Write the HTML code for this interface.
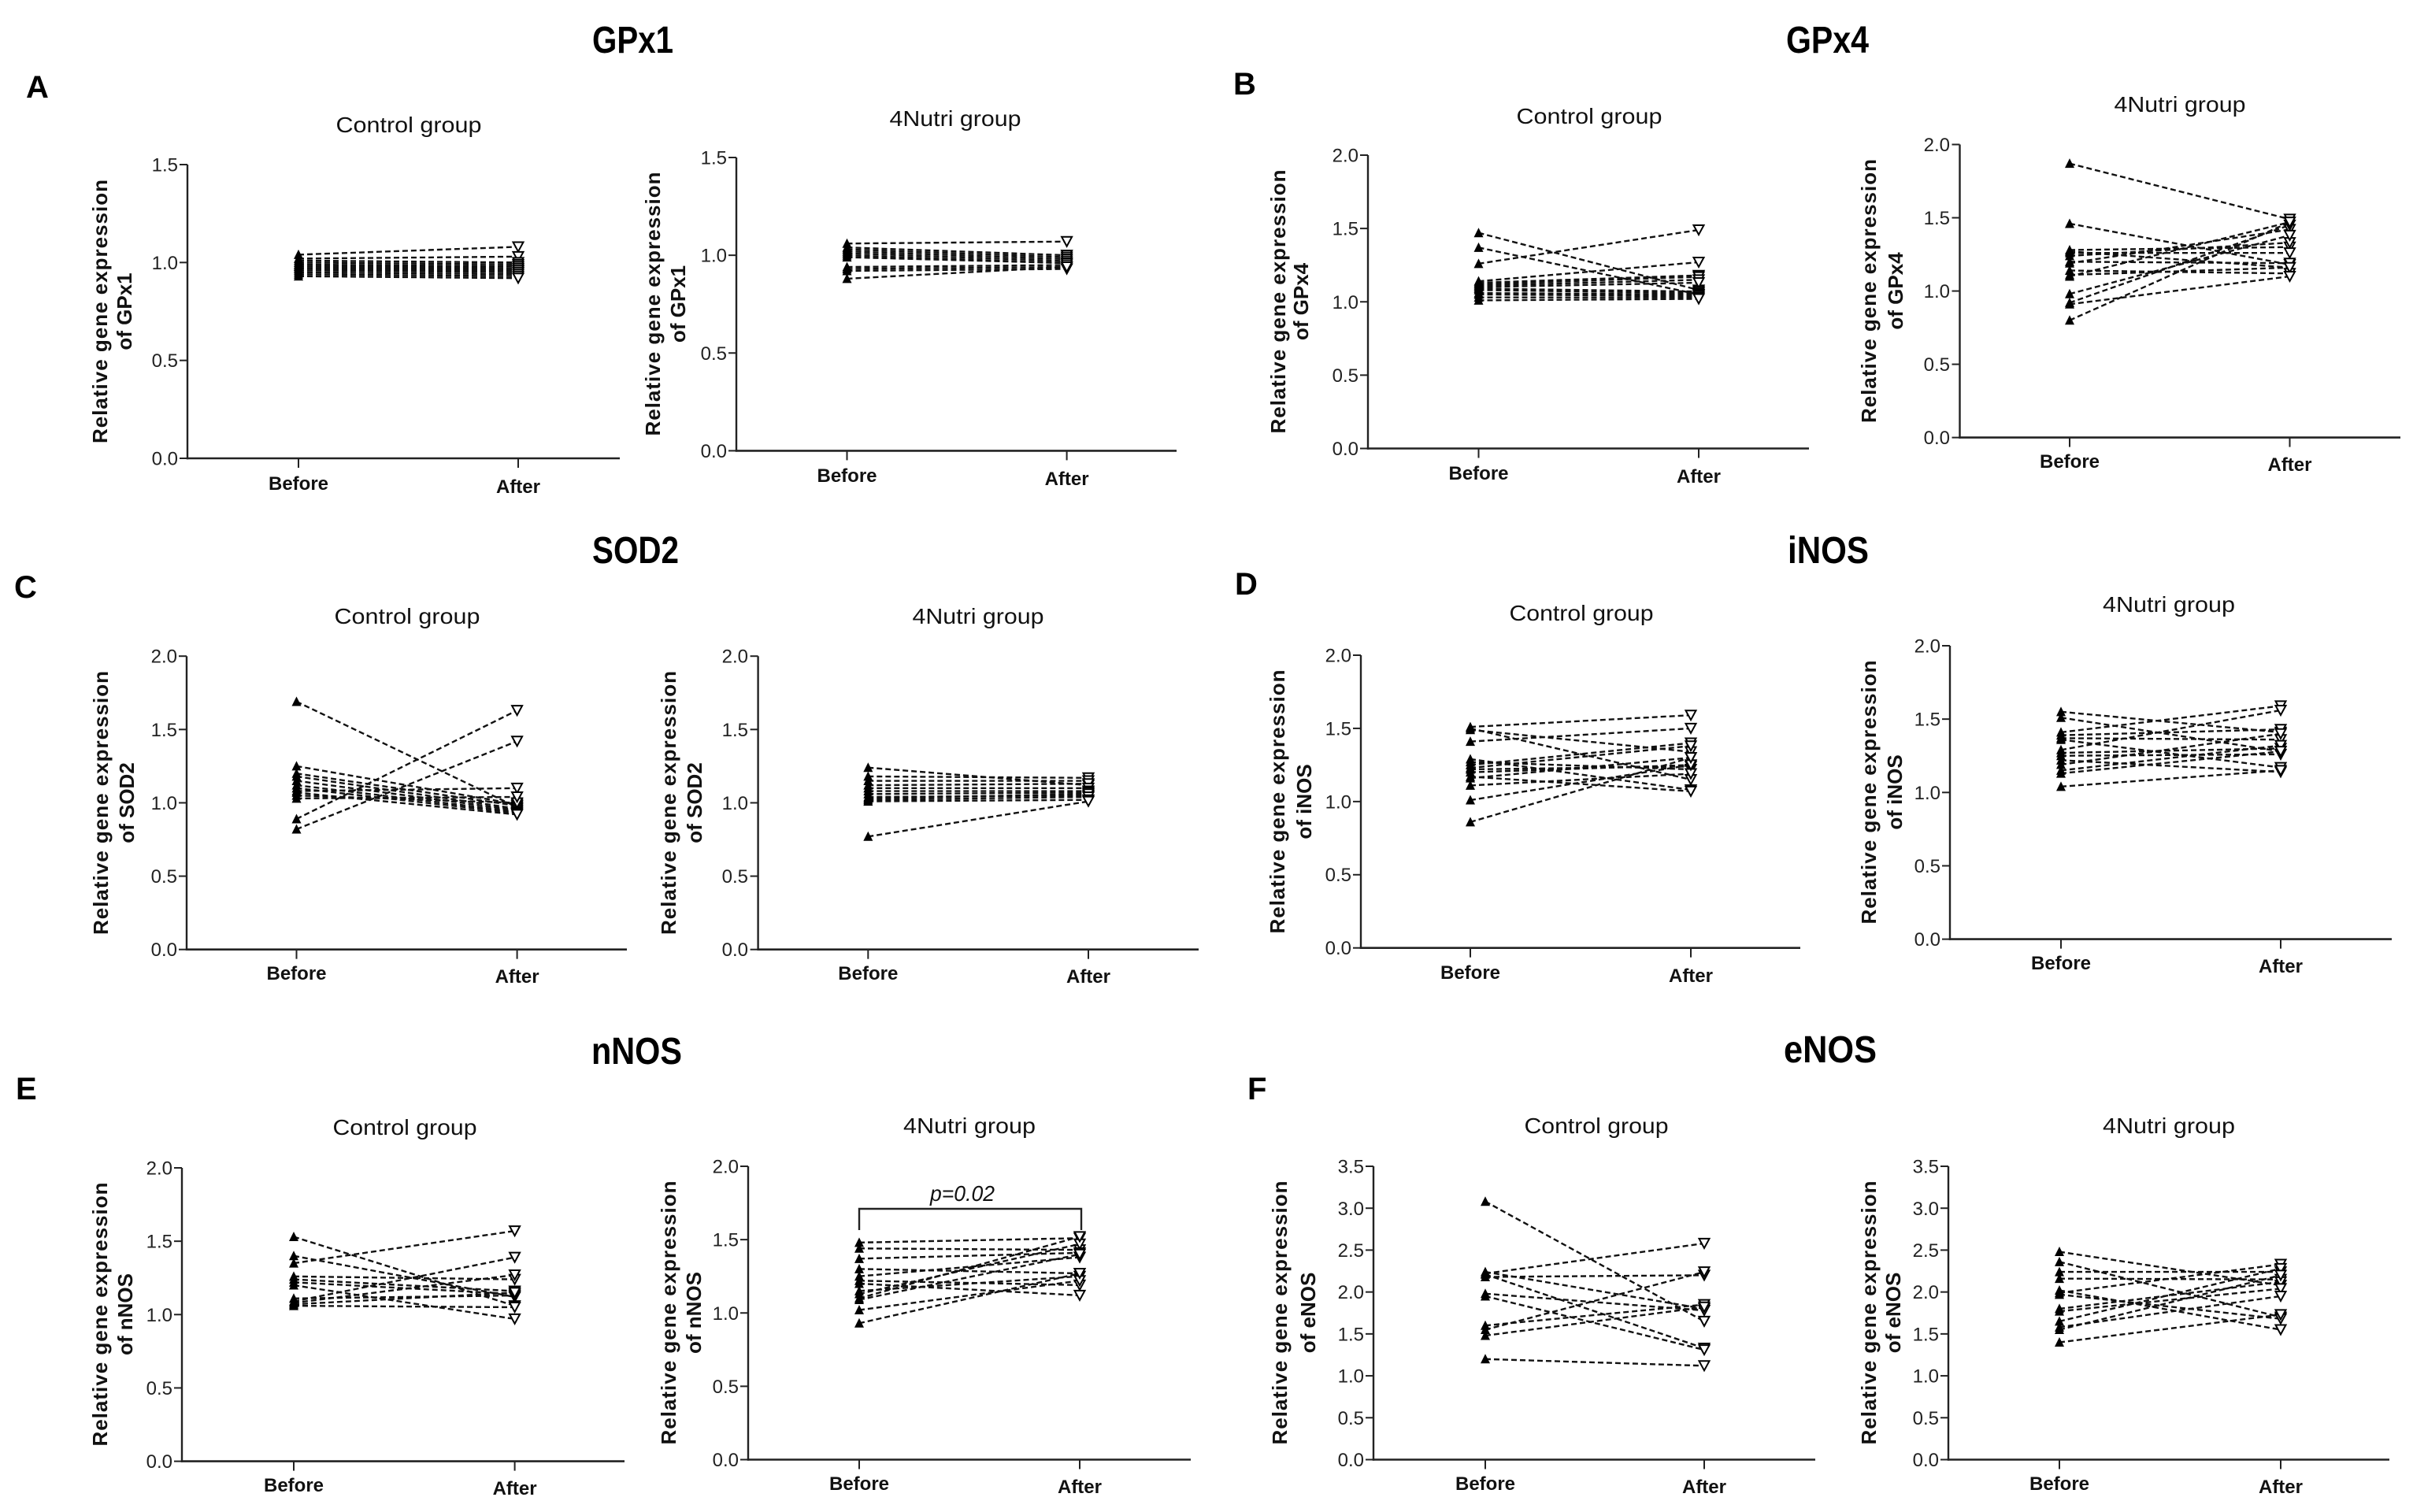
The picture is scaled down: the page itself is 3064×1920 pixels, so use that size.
<!DOCTYPE html>
<html><head><meta charset="utf-8"><style>
html,body{margin:0;padding:0;background:#fff;}
svg{display:block;}
.tk{font-family:"Liberation Sans",sans-serif;font-size:24px;fill:#222;text-anchor:end;}
.xl{font-family:"Liberation Sans",sans-serif;font-size:24px;font-weight:bold;fill:#111;text-anchor:middle;}
.tt{font-family:"Liberation Sans",sans-serif;font-size:28px;fill:#111;text-anchor:middle;}
.yl{font-family:"Liberation Sans",sans-serif;font-size:26px;font-weight:bold;fill:#111;text-anchor:middle;}
.big{font-family:"Liberation Sans Narrow","Liberation Sans",sans-serif;font-size:48px;font-weight:bold;fill:#000;}
.let{font-family:"Liberation Sans Narrow","Liberation Sans",sans-serif;font-size:40px;font-weight:bold;fill:#000;}
</style></head><body>
<svg id="s" xmlns="http://www.w3.org/2000/svg" width="3064" height="1920" viewBox="0 0 3064 1920">
<rect width="3064" height="1920" fill="#fff"/>
<g id="plots"></g>
<!-- big titles -->
<text class="big" x="752" y="67" textLength="103" lengthAdjust="spacingAndGlyphs">GPx1</text>
<text class="big" x="2268" y="67" textLength="105" lengthAdjust="spacingAndGlyphs">GPx4</text>
<text class="big" x="752" y="715" textLength="110" lengthAdjust="spacingAndGlyphs">SOD2</text>
<text class="big" x="2270" y="715" textLength="103" lengthAdjust="spacingAndGlyphs">iNOS</text>
<text class="big" x="751" y="1351" textLength="115" lengthAdjust="spacingAndGlyphs">nNOS</text>
<text class="big" x="2265" y="1349" textLength="118" lengthAdjust="spacingAndGlyphs">eNOS</text>
<!-- letters -->
<text class="let" x="33" y="124">A</text>
<text class="let" x="1566" y="120">B</text>
<text class="let" x="18" y="759">C</text>
<text class="let" x="1568" y="755">D</text>
<text class="let" x="20" y="1396">E</text>
<text class="let" x="1584" y="1396">F</text>

<!-- A1 -->
<text class="tt" x="519" y="168" textLength="185" lengthAdjust="spacingAndGlyphs">Control group</text>
<text class="tk" x="226" y="590.5">0.0</text><text class="tk" x="226" y="466">0.5</text><text class="tk" x="226" y="341.8">1.0</text><text class="tk" x="226" y="217.5">1.5</text>
<text class="xl" x="379" y="622">Before</text><text class="xl" x="658" y="626">After</text>
<text class="yl" transform="translate(136,395.5) rotate(-90)" textLength="335" lengthAdjust="spacing">Relative gene expression</text>
<text class="yl" transform="translate(167,395.5) rotate(-90)">of GPx1</text>
<!-- A2 -->
<text class="tt" x="1213" y="160" textLength="167" lengthAdjust="spacingAndGlyphs">4Nutri group</text>
<text class="tk" x="923" y="581">0.0</text><text class="tk" x="923" y="456.8">0.5</text><text class="tk" x="923" y="332.6">1.0</text><text class="tk" x="923" y="208.5">1.5</text>
<text class="xl" x="1075.5" y="612">Before</text><text class="xl" x="1354.6" y="616">After</text>
<text class="yl" transform="translate(838,386) rotate(-90)" textLength="335" lengthAdjust="spacing">Relative gene expression</text>
<text class="yl" transform="translate(870,386) rotate(-90)">of GPx1</text>
<!-- B1 -->
<text class="tt" x="2018" y="157" textLength="185" lengthAdjust="spacingAndGlyphs">Control group</text>
<text class="tk" x="1725" y="578">0.0</text><text class="tk" x="1725" y="485">0.5</text><text class="tk" x="1725" y="391.8">1.0</text><text class="tk" x="1725" y="298.6">1.5</text><text class="tk" x="1725" y="205.5">2.0</text>
<text class="xl" x="1877.5" y="609">Before</text><text class="xl" x="2157" y="613">After</text>
<text class="yl" transform="translate(1632,383) rotate(-90)" textLength="335" lengthAdjust="spacing">Relative gene expression</text>
<text class="yl" transform="translate(1661,383) rotate(-90)">of GPx4</text>
<!-- B2 -->
<text class="tt" x="2768" y="142" textLength="167" lengthAdjust="spacingAndGlyphs">4Nutri group</text>
<text class="tk" x="2476" y="564">0.0</text><text class="tk" x="2476" y="471">0.5</text><text class="tk" x="2476" y="378">1.0</text><text class="tk" x="2476" y="285">1.5</text><text class="tk" x="2476" y="192">2.0</text>
<text class="xl" x="2628" y="594">Before</text><text class="xl" x="2907.5" y="598">After</text>
<text class="yl" transform="translate(2382,369.5) rotate(-90)" textLength="335" lengthAdjust="spacing">Relative gene expression</text>
<text class="yl" transform="translate(2416,369.5) rotate(-90)">of GPx4</text>
<!-- C1 -->
<text class="tt" x="517" y="792" textLength="185" lengthAdjust="spacingAndGlyphs">Control group</text>
<text class="tk" x="225" y="1214">0.0</text><text class="tk" x="225" y="1121">0.5</text><text class="tk" x="225" y="1028">1.0</text><text class="tk" x="225" y="934.8">1.5</text><text class="tk" x="225" y="841.7">2.0</text>
<text class="xl" x="376.5" y="1244">Before</text><text class="xl" x="656.6" y="1248">After</text>
<text class="yl" transform="translate(137,1019.5) rotate(-90)" textLength="335" lengthAdjust="spacing">Relative gene expression</text>
<text class="yl" transform="translate(170,1019.5) rotate(-90)">of SOD2</text>
<!-- C2 -->
<text class="tt" x="1242" y="792" textLength="167" lengthAdjust="spacingAndGlyphs">4Nutri group</text>
<text class="tk" x="950" y="1214">0.0</text><text class="tk" x="950" y="1121">0.5</text><text class="tk" x="950" y="1028">1.0</text><text class="tk" x="950" y="934.8">1.5</text><text class="tk" x="950" y="841.7">2.0</text>
<text class="xl" x="1102.3" y="1244">Before</text><text class="xl" x="1382" y="1248">After</text>
<text class="yl" transform="translate(858,1019.5) rotate(-90)" textLength="335" lengthAdjust="spacing">Relative gene expression</text>
<text class="yl" transform="translate(891,1019.5) rotate(-90)">of SOD2</text>
<!-- D1 -->
<text class="tt" x="2008" y="788" textLength="183" lengthAdjust="spacingAndGlyphs">Control group</text>
<text class="tk" x="1716" y="1212">0.0</text><text class="tk" x="1716" y="1119">0.5</text><text class="tk" x="1716" y="1026.4">1.0</text><text class="tk" x="1716" y="933.4">1.5</text><text class="tk" x="1716" y="840.5">2.0</text>
<text class="xl" x="1867" y="1243">Before</text><text class="xl" x="2147" y="1247">After</text>
<text class="yl" transform="translate(1631,1018) rotate(-90)" textLength="335" lengthAdjust="spacing">Relative gene expression</text>
<text class="yl" transform="translate(1665,1018) rotate(-90)">of iNOS</text>
<!-- D2 -->
<text class="tt" x="2754" y="777" textLength="168" lengthAdjust="spacingAndGlyphs">4Nutri group</text>
<text class="tk" x="2464" y="1201">0.0</text><text class="tk" x="2464" y="1108">0.5</text><text class="tk" x="2464" y="1014.8">1.0</text><text class="tk" x="2464" y="921.6">1.5</text><text class="tk" x="2464" y="828.5">2.0</text>
<text class="xl" x="2617" y="1231">Before</text><text class="xl" x="2896" y="1235">After</text>
<text class="yl" transform="translate(2382,1006) rotate(-90)" textLength="335" lengthAdjust="spacing">Relative gene expression</text>
<text class="yl" transform="translate(2415,1006) rotate(-90)">of iNOS</text>
<!-- E1 -->
<text class="tt" x="514" y="1441" textLength="183" lengthAdjust="spacingAndGlyphs">Control group</text>
<text class="tk" x="219" y="1864">0.0</text><text class="tk" x="219" y="1771">0.5</text><text class="tk" x="219" y="1677.8">1.0</text><text class="tk" x="219" y="1584.6">1.5</text><text class="tk" x="219" y="1491.5">2.0</text>
<text class="xl" x="373" y="1894">Before</text><text class="xl" x="653.6" y="1898">After</text>
<text class="yl" transform="translate(136,1669) rotate(-90)" textLength="335" lengthAdjust="spacing">Relative gene expression</text>
<text class="yl" transform="translate(168,1669) rotate(-90)">of nNOS</text>
<!-- E2 -->
<text class="tt" x="1231" y="1439" textLength="168" lengthAdjust="spacingAndGlyphs">4Nutri group</text>
<text class="tk" x="938" y="1862">0.0</text><text class="tk" x="938" y="1769">0.5</text><text class="tk" x="938" y="1675.8">1.0</text><text class="tk" x="938" y="1582.6">1.5</text><text class="tk" x="938" y="1489.5">2.0</text>
<text class="xl" x="1091" y="1892">Before</text><text class="xl" x="1371" y="1896">After</text>
<text class="yl" transform="translate(858,1667) rotate(-90)" textLength="335" lengthAdjust="spacing">Relative gene expression</text>
<text class="yl" transform="translate(890,1667) rotate(-90)">of nNOS</text>
<text x="1222" y="1525" font-family="Liberation Sans, sans-serif" font-size="28" font-style="italic" fill="#111" text-anchor="middle" textLength="82" lengthAdjust="spacingAndGlyphs">p=0.02</text>
<path d="M1091 1562 V1535 H1373 V1562" fill="none" stroke="#222" stroke-width="2.4"/>
<!-- F1 -->
<text class="tt" x="2027" y="1439" textLength="183" lengthAdjust="spacingAndGlyphs">Control group</text>
<text class="tk" x="1732" y="1862">0.0</text><text class="tk" x="1732" y="1808.8">0.5</text><text class="tk" x="1732" y="1755.6">1.0</text><text class="tk" x="1732" y="1702.4">1.5</text><text class="tk" x="1732" y="1649.2">2.0</text><text class="tk" x="1732" y="1596">2.5</text><text class="tk" x="1732" y="1542.8">3.0</text><text class="tk" x="1732" y="1489.5">3.5</text>
<text class="xl" x="1886" y="1892">Before</text><text class="xl" x="2164" y="1896">After</text>
<text class="yl" transform="translate(1634,1667) rotate(-90)" textLength="335" lengthAdjust="spacing">Relative gene expression</text>
<text class="yl" transform="translate(1670,1667) rotate(-90)">of eNOS</text>
<!-- F2 -->
<text class="tt" x="2754" y="1439" textLength="168" lengthAdjust="spacingAndGlyphs">4Nutri group</text>
<text class="tk" x="2462" y="1862">0.0</text><text class="tk" x="2462" y="1808.8">0.5</text><text class="tk" x="2462" y="1755.6">1.0</text><text class="tk" x="2462" y="1702.4">1.5</text><text class="tk" x="2462" y="1649.2">2.0</text><text class="tk" x="2462" y="1596">2.5</text><text class="tk" x="2462" y="1542.8">3.0</text><text class="tk" x="2462" y="1489.5">3.5</text>
<text class="xl" x="2615" y="1892">Before</text><text class="xl" x="2896" y="1896">After</text>
<text class="yl" transform="translate(2382,1667) rotate(-90)" textLength="335" lengthAdjust="spacing">Relative gene expression</text>
<text class="yl" transform="translate(2413,1667) rotate(-90)">of eNOS</text>
</svg>
<script>
(function(){
var NS="http://www.w3.org/2000/svg";
var g=document.getElementById("plots");
function el(n,a){var e=document.createElementNS(NS,n);for(var k in a)e.setAttribute(k,a[k]);g.appendChild(e);return e;}
var P=[
{ax:238,y0:582,yt:209,ym:1.5,xe:787,xb:379,xa:658,d:[[1.04,1.08],[1.02,1.03],[1.01,1.00],[1.00,0.99],[0.99,0.98],[0.99,0.97],[0.98,0.96],[0.98,0.97],[0.97,0.95],[0.97,0.96],[0.96,0.95],[0.95,0.94],[0.94,0.93],[0.93,0.92]]},
{ax:935,y0:572.4,yt:200,ym:1.5,xe:1494,xb:1075.5,xa:1354.6,d:[[1.06,1.07],[1.04,1.00],[1.03,0.99],[1.02,0.98],[1.01,0.97],[1.00,0.96],[0.99,0.96],[0.94,0.95],[0.93,0.94],[0.92,0.93],[0.88,0.94]]},
{ax:1737,y0:569.5,yt:197,ym:2,xe:2297,xb:1877.5,xa:2157,d:[[1.47,1.08],[1.37,1.05],[1.26,1.49],[1.14,1.27],[1.13,1.18],[1.12,1.17],[1.11,1.15],[1.10,1.13],[1.09,1.07],[1.08,1.06],[1.06,1.05],[1.05,1.04],[1.03,1.03],[1.01,1.02]]},
{ax:2488.5,y0:555.6,yt:183.5,ym:2,xe:3048,xb:2628,xa:2907.5,d:[[1.87,1.49],[1.46,1.18],[1.28,1.30],[1.27,1.16],[1.26,1.26],[1.24,1.33],[1.20,1.19],[1.19,1.42],[1.14,1.12],[1.11,1.16],[1.10,1.47],[0.98,1.38],[0.92,1.45],[0.91,1.10],[0.80,1.47]]},
{ax:237,y0:1205.7,yt:833.2,ym:2,xe:796,xb:376.5,xa:656.6,d:[[1.69,0.97],[0.89,1.63],[0.82,1.42],[1.25,0.99],[1.20,0.98],[1.18,0.96],[1.15,0.95],[1.12,0.94],[1.10,0.93],[1.08,1.10],[1.05,1.00],[1.03,1.04],[1.07,0.92]]},
{ax:962.6,y0:1205.7,yt:833.2,ym:2,xe:1522,xb:1102.3,xa:1382,d:[[1.24,1.12],[1.18,1.17],[1.15,1.15],[1.12,1.13],[1.10,1.10],[1.08,1.08],[1.06,1.07],[1.04,1.05],[1.03,1.06],[1.02,1.04],[1.01,1.02],[0.77,1.01]]},
{ax:1728,y0:1203.7,yt:832,ym:2,xe:2286,xb:1867,xa:2147,d:[[1.51,1.59],[1.50,1.15],[1.49,1.34],[1.41,1.50],[1.29,1.08],[1.27,1.22],[1.25,1.40],[1.23,1.38],[1.22,1.24],[1.20,1.25],[1.17,1.07],[1.16,1.30],[1.11,1.19],[1.01,1.25],[0.86,1.30]]},
{ax:2476,y0:1192.6,yt:820,ym:2,xe:3037,xb:2617,xa:2896,d:[[1.55,1.41],[1.51,1.28],[1.41,1.59],[1.39,1.43],[1.37,1.36],[1.36,1.17],[1.29,1.56],[1.27,1.30],[1.25,1.26],[1.22,1.14],[1.19,1.40],[1.15,1.32],[1.13,1.28],[1.04,1.15]]},
{ax:231,y0:1855.6,yt:1483,ym:2,xe:793,xb:373,xa:653.6,d:[[1.53,1.06],[1.40,1.12],[1.35,1.57],[1.26,1.24],[1.24,1.16],[1.22,1.14],[1.20,0.97],[1.11,1.13],[1.09,1.39],[1.08,1.27],[1.07,1.15],[1.06,1.05]]},
{ax:950,y0:1853.5,yt:1481,ym:2,xe:1512,xb:1091,xa:1371,d:[[1.48,1.51],[1.44,1.43],[1.37,1.41],[1.30,1.27],[1.25,1.38],[1.22,1.19],[1.15,1.25],[1.13,1.47],[1.10,1.52],[1.09,1.40],[1.02,1.22],[0.93,1.27],[1.20,1.12]]},
{ax:1744,y0:1853.5,yt:1481,ym:3.5,xe:2305,xb:1886,xa:2164,d:[[3.08,1.65],[2.22,2.58],[2.18,2.20],[2.24,1.80],[2.21,1.33],[1.98,1.78],[1.95,1.31],[1.55,2.24],[1.60,1.85],[1.48,1.82],[1.20,1.12]]},
{ax:2474,y0:1853.5,yt:1481,ym:3.5,xe:3034,xb:2615,xa:2896,d:[[2.48,2.08],[2.36,1.70],[2.24,2.24],[2.16,2.15],[2.02,1.55],[1.99,2.33],[1.97,1.68],[1.80,2.12],[1.77,2.04],[1.65,2.28],[1.58,1.95],[1.55,2.20],[1.40,1.73]]}
];
P.forEach(function(p){
  var Y=function(v){return p.y0-v/p.ym*(p.y0-p.yt);};
  el("line",{x1:p.ax,y1:p.yt,x2:p.ax,y2:p.y0+1.2,stroke:"#222","stroke-width":2.4});
  el("line",{x1:p.ax-1.2,y1:p.y0,x2:p.xe,y2:p.y0,stroke:"#222","stroke-width":2.6});
  for(var v=0;v<=p.ym+0.001;v+=0.5){var y=Y(v);el("line",{x1:p.ax-10,y1:y,x2:p.ax,y2:y,stroke:"#222","stroke-width":2});}
  [p.xb,p.xa].forEach(function(x){el("line",{x1:x,y1:p.y0,x2:x,y2:p.y0+12,stroke:"#222","stroke-width":2});});
  p.d.forEach(function(r){
    el("line",{x1:p.xb,y1:Y(r[0]),x2:p.xa,y2:Y(r[1]),stroke:"#111","stroke-width":2.4,"stroke-dasharray":"7 4"});
  });
  p.d.forEach(function(r){
    var x=p.xb,y=Y(r[0]);
    el("polygon",{points:(x-6)+","+(y+5.5)+" "+(x+6)+","+(y+5.5)+" "+x+","+(y-6.5),fill:"#000"});
  });
  p.d.forEach(function(r){
    var x=p.xa,y=Y(r[1]);
    el("polygon",{points:(x-6.5)+","+(y-6)+" "+(x+6.5)+","+(y-6)+" "+x+","+(y+6),fill:"#fff",stroke:"#000","stroke-width":2});
  });
});
})();
</script>
</body></html>
